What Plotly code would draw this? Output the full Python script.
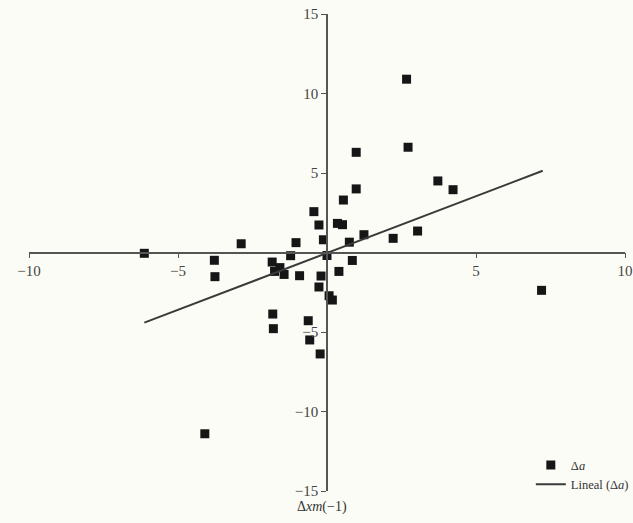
import plotly.graph_objects as go

# Scatter data: Δxm(-1) (x) vs Δa (y)
dxm = [-6.13, -3.78, -3.76, -2.88, -1.84, -1.76, -1.58, -1.44, -1.22, -1.04,
       -0.92, -0.44, -0.27, -0.20, -0.27, 0.07, 0.18, -1.82, -1.80, -0.63,
       -0.58, -0.23, -4.10, -0.12, 0.00, 0.75, 0.85, 1.24, 0.40, 0.35,
       0.52, 0.55, 0.98, 0.98, 2.22, 3.04, 2.67, 2.72, 3.72, 4.23, 7.20]
da = [-0.05, -0.49, -1.52, 0.55, -0.60, -1.19, -0.95, -1.38, -0.20, 0.62,
      -1.46, 2.57, 1.73, -1.48, -2.17, -2.72, -2.99, -3.87, -4.79, -4.29,
      -5.50, -6.38, -11.40, 0.80, -0.19, 0.65, -0.50, 1.12, -1.19, 1.83,
      1.75, 3.30, 4.00, 6.30, 0.89, 1.35, 10.90, 6.62, 4.50, 3.95, -2.38]

# Linear trend line endpoints
trend_x = [-6.13, 7.24]
trend_y = [-4.41, 5.14]

x_ticks = [-10, -5, 5, 10]
y_ticks = [-15, -10, -5, 5, 10, 15]

font_family = "Liberation Serif, DejaVu Serif, serif"
tick_font = dict(family=font_family, size=15, color="#444")

fig = go.Figure()
fig.add_trace(go.Scatter(
    x=dxm, y=da, mode="markers", name="Δ<i>a</i>",
    marker=dict(symbol="square", size=9, color="#161616",
                line=dict(width=0))
))
fig.add_trace(go.Scatter(
    x=trend_x, y=trend_y, mode="lines", name="Lineal (Δ<i>a</i>)",
    line=dict(color="#3a3a3a", width=2)
))

fig.update_layout(
    width=633, height=523,
    margin=dict(l=29, r=8, t=14, b=32, autoexpand=False),
    paper_bgcolor="#fcfcf7",
    plot_bgcolor="#fcfcf7",
    font=dict(family=font_family, size=14, color="#444"),
    showlegend=True,
    legend=dict(
        x=0.842, y=0.085, xanchor="left", yanchor="top",
        bgcolor="rgba(0,0,0,0)",
        font=dict(family=font_family, size=12.5, color="#333"),
        tracegroupgap=0, itemwidth=30,
    ),
    xaxis=dict(
        range=[-10, 10], domain=[0, 1], automargin=False,
        anchor="free", position=0.5,
        showgrid=False, zeroline=False,
        showline=True, linecolor="#555", linewidth=1.5,
        ticks="outside", ticklen=5, tickcolor="#555", tickwidth=1.2,
        tickvals=x_ticks, ticktext=[str(v).replace("-", "−") for v in x_ticks],
        tickfont=tick_font,
    ),
    yaxis=dict(
        range=[-15, 15], domain=[0, 1], automargin=False,
        anchor="free", position=0.5,
        showgrid=False, zeroline=False,
        showline=True, linecolor="#555", linewidth=1.5,
        ticks="outside", ticklen=5, tickcolor="#555", tickwidth=1.2,
        tickvals=y_ticks, ticktext=[str(v).replace("-", "−") for v in y_ticks],
        tickfont=tick_font,
    ),
)

fig.add_annotation(
    x=0, y=-15, xref="x", yref="y",
    text="Δ<i>xm</i>(−1)", showarrow=False,
    yanchor="top", yshift=-6, xshift=-5,
    font=dict(family=font_family, size=14, color="#333"),
)

fig.write_html(
    "out.html",
    config={"displayModeBar": False},
    post_script="document.body.style.margin='0';document.body.style.background='#fcfcf7';",
)
